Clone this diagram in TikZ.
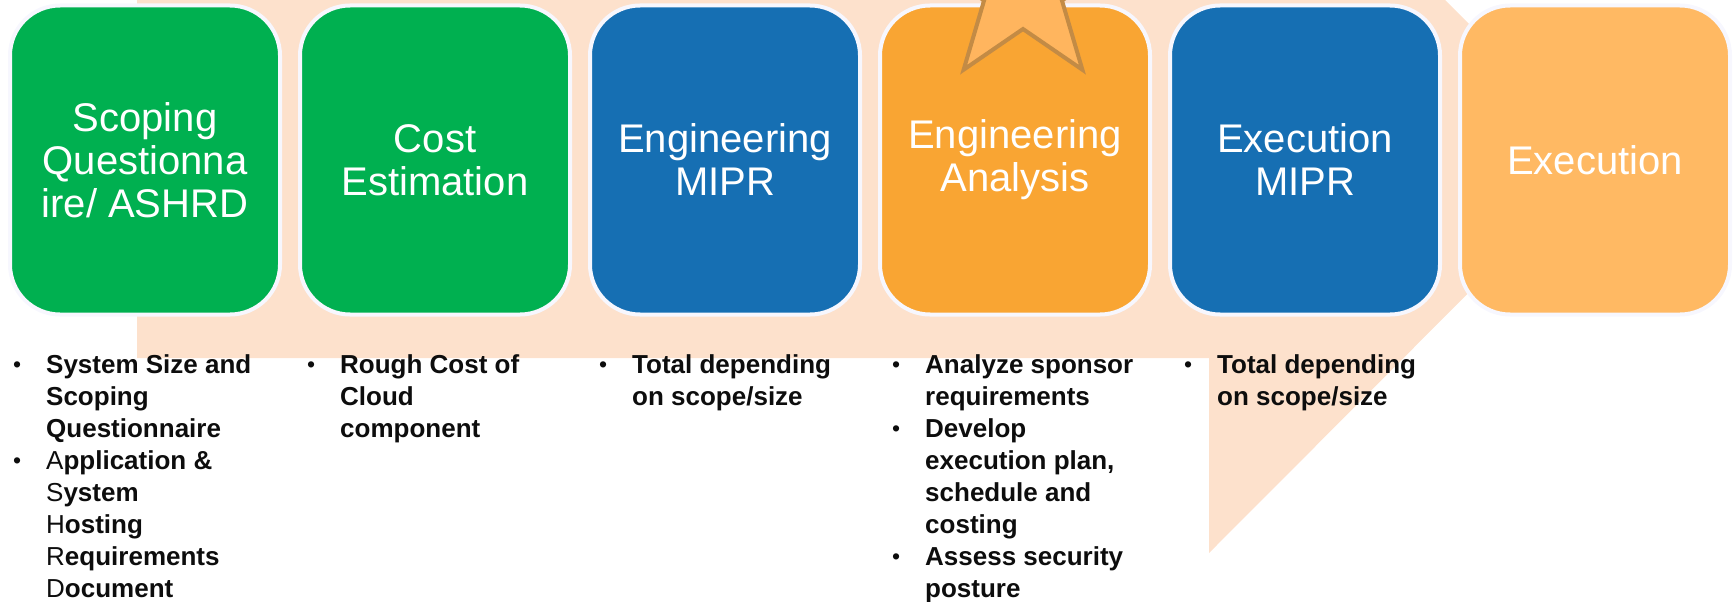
\documentclass[tikz,border=0pt]{standalone}
\usepackage{fontspec}
\setmainfont{Liberation Sans}
\usetikzlibrary{positioning}

\definecolor{phasegreen}{HTML}{00B050}
\definecolor{phaseblue}{HTML}{166FB3}
\definecolor{phaseorange}{HTML}{F9A533}
\definecolor{phaselight}{HTML}{FFB963}
\definecolor{arrowpeach}{HTML}{FDE1CC}
\definecolor{starfill}{HTML}{FFB55E}
\definecolor{starline}{HTML}{C38B45}
\definecolor{rim}{HTML}{F7F7FE}

\newcommand{\bul}{\llap{\makebox[33pt][l]{\mdseries\fontsize{23}{23}\selectfont\raisebox{1pt}{\textbullet}}}}
\newcommand{\rg}[1]{{\mdseries #1}}

\tikzset{
  phase/.style={rounded corners=50pt, minimum width=270pt, minimum height=309pt,
    draw=rim, line width=4pt, text=white, align=center, inner sep=0pt,
    font=\fontsize{40}{43}\selectfont},
  notes/.style={anchor=north west, align=left, inner sep=0pt,
    font=\bfseries\fontsize{26}{32}\selectfont, text=black!95},
  backarrow/.style={fill=arrowpeach, draw=none},
  starmark/.style={fill=starfill, draw=starline, line width=4pt, line join=miter}
}

\begin{document}
\begin{tikzpicture}[x=1pt,y=-1pt]
  \useasboundingbox (0,0) rectangle (1735,602);
  \clip (0,0) rectangle (1735,602);
  % big arrow behind the phases
  \fill[backarrow] (137,358) -- (1209,358) -- (1209,553) -- (1603,158)
    -- (1209,-236) -- (1209,-60) -- (137,-60) -- cycle;
  % phases
  \node[phase, fill=phasegreen]  (scoping)  at (145,160)  {Scoping\\Questionna\\ire/ ASHRD};
  \node[phase, fill=phasegreen]  (cost)     at (435,160)  {Cost\\Estimation};
  \node[phase, fill=phaseblue]   (engmipr)  at (725,160)  {Engineering\\MIPR};
  \node[phase, fill=phaseorange] (analysis) at (1015,160) {Engineering\\Analysis};
  \node[phase, fill=phaseblue]   (execmipr) at (1305,160) {Execution\\MIPR};
  \node[phase, fill=phaselight]  (exec)     at (1595,160) {Execution};
  % star on the analysis phase
  \draw[starmark] (1023,-12) +(270:101)
    \foreach \k [evaluate=\k as \r using {101-60*mod(\k,2)}] in {1,...,9} { -- +({270+36*\k}:\r) }
    -- cycle;
  % notes under the phases
  \node[notes] (scopingnotes) at (46,354) {\bul System Size and\\Scoping\\Questionnaire\\
    \bul \rg{A}pplication \&\\\rg{S}ystem\\\rg{H}osting\\\rg{R}equirements\\\rg{D}ocument};
  \node[notes] (costnotes) at (340,354) {\bul Rough Cost of\\Cloud\\component};
  \node[notes] (engnotes) at (632,354) {\bul Total depending\\on scope/size};
  \node[notes] (analysisnotes) at (925,354) {\bul Analyze sponsor\\requirements\\
    \bul Develop\\execution plan,\\schedule and\\costing\\\bul Assess security\\posture};
  \node[notes] (execnotes) at (1217,354) {\bul Total depending\\on scope/size};
\end{tikzpicture}
\end{document}
